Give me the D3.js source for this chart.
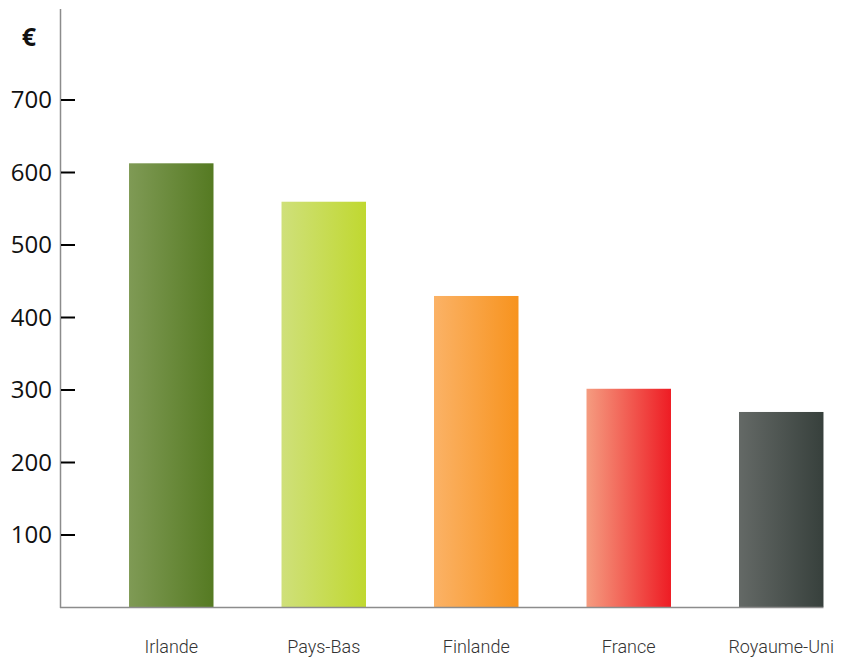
<!DOCTYPE html>
<html>
<head>
<meta charset="utf-8">
<script src="https://cdn.jsdelivr.net/npm/d3@7"></script>
<style>
  body { margin: 0; background: #fff; }
  svg { display: block; }
</style>
</head>
<body>
<script>
// chart data
var countries = ["Irlande", "Pays-Bas", "Finlande", "France", "Royaume-Uni"];
var values = [612, 559, 429, 301, 269];
var colorsLeft = ["#7f9a55", "#cfe07a", "#fbb266", "#f59c80", "#646966"];
var colorsRight = ["#557a22", "#c0d830", "#f7931e", "#ee1c24", "#37403c"];
var yTicks = [100, 200, 300, 400, 500, 600, 700];

var width = 856, height = 657;

var svg = d3.select("body").append("svg")
    .attr("width", width)
    .attr("height", height);

// scales
var x = d3.scaleBand()
    .domain(countries)
    .range([60.4, 892.1])
    .paddingInner(0.446)
    .paddingOuter(0.45);

var y = d3.scaleLinear()
    .domain([0, 700])
    .range([607, 99.5]);

// gradients for bars
var defs = svg.append("defs");
countries.forEach(function(c, i){
    var g = defs.append("linearGradient")
        .attr("id", "grad" + i)
        .attr("x1", "0%").attr("x2", "100%")
        .attr("y1", "0%").attr("y2", "0%");
    g.append("stop").attr("offset", "0%").attr("stop-color", colorsLeft[i]);
    g.append("stop").attr("offset", "100%").attr("stop-color", colorsRight[i]);
});

// bars
svg.selectAll(".bar")
    .data(countries)
    .enter()
    .append("rect")
    .attr("class", "bar")
    .attr("x", function(d){ return x(d); })
    .attr("width", x.bandwidth())
    .attr("y", function(d, i){ return y(values[i]); })
    .attr("height", function(d, i){ return y(0) - y(values[i]); })
    .attr("fill", function(d, i){ return "url(#grad" + i + ")"; });

// baseline
svg.append("line")
    .attr("x1", 60).attr("x2", x(countries[4]) + x.bandwidth())
    .attr("y1", y(0) + 0.5).attr("y2", y(0) + 0.5)
    .attr("stroke", "#8c8c8c")
    .attr("stroke-width", 1.5);

// y axis line
svg.append("line")
    .attr("x1", 60.5).attr("x2", 60.5)
    .attr("y1", 9).attr("y2", y(0) + 1)
    .attr("stroke", "#8c8c8c")
    .attr("stroke-width", 1.5);

// y axis ticks (inside) and labels
var yAxis = d3.axisRight(y)
    .tickValues(yTicks)
    .tickSize(14)
    .tickFormat("");

var yg = svg.append("g")
    .attr("transform", "translate(61,0)")
    .call(yAxis);
yg.select(".domain").remove();
yg.selectAll(".tick line")
    .attr("stroke", "#000")
    .attr("stroke-width", 2);

svg.selectAll(".ylab")
    .data(yTicks)
    .enter()
    .append("text")
    .attr("class", "ylab")
    .attr("x", 52)
    .attr("y", function(d){ return y(d); })
    .attr("dy", "0.36em")
    .attr("text-anchor", "end")
    .attr("font-family", "'Open Sans', sans-serif")
    .attr("font-size", 24)
    .attr("fill", "#111")
    .text(function(d){ return d; });

// unit label
svg.append("text")
    .attr("x", 29)
    .attr("y", 46)
    .attr("text-anchor", "middle")
    .attr("font-family", "'Open Sans', sans-serif")
    .attr("font-weight", "bold")
    .attr("font-size", 25)
    .attr("fill", "#111")
    .text("€");

// category labels
svg.selectAll(".xlab")
    .data(countries)
    .enter()
    .append("text")
    .attr("class", "xlab")
    .attr("x", function(d){ return x(d) + x.bandwidth() / 2; })
    .attr("y", 653)
    .attr("text-anchor", "middle")
    .attr("font-family", "Roboto, sans-serif")
    .attr("font-weight", 300)
    .attr("font-size", 18)
    .attr("fill", "#333")
    .text(function(d){ return d; });
</script>
</body>
</html>
